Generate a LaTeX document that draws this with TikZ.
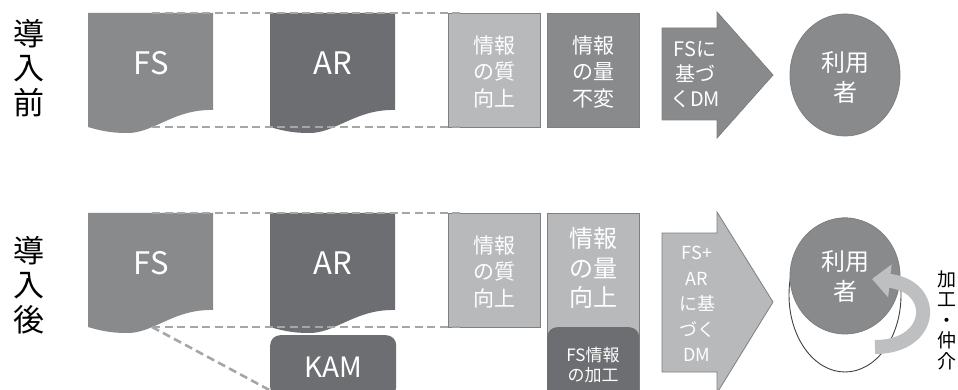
\documentclass[tikz,border=0pt]{standalone}
\usepackage{fontspec}
\setmainfont{Noto Sans CJK JP}
\usetikzlibrary{arrows.meta,shapes.geometric}
\definecolor{gmid}{HTML}{898A8C}
\definecolor{gdark}{HTML}{6D6E71}
\definecolor{glight}{HTML}{B8B9BB}
\definecolor{gdash}{HTML}{A5A6A8}
\definecolor{gedge}{HTML}{7E7F81}
\definecolor{garrow}{HTML}{BEBFC1}
\begin{document}
\begin{tikzpicture}[x=1pt,y=-1pt,
  lbl/.style={font=\fontsize{31}{34.5}\selectfont, text=black, inner sep=0, align=center},
  wt/.style={text=white, inner sep=0, align=center},
  dashln/.style={draw=gdash, line width=2.6, dash pattern=on 8 off 4.5},
  infobox/.style={draw=gedge, line width=1.2, minimum width=92, minimum height=114, anchor=north west, inner sep=0},
  docu/.pic={\fill[pic actions] (0,0) -- (125,0) -- (125,97) .. controls (85,96) and (65,121) .. (38,120) .. controls (22,120) and (10,117) .. (0,114) -- cycle;}
]
\useasboundingbox (0,0) rectangle (958,390);
\clip (0,0) rectangle (958,390);

% ---------- top row ----------
\node[lbl] (pre) at (29,68) {導\\入\\前};
\pic[fill=gmid] at (88,13) {docu};
\pic[fill=gdark] at (270,13) {docu};
\node[wt, font=\fontsize{31}{31}\selectfont] (fs1) at (151,63) {FS};
\node[wt, font=\fontsize{31}{31}\selectfont] (ar1) at (333,63) {AR};
\node[infobox, fill=glight] (q1) at (448,13) {};
\node[infobox, fill=gmid] (v1) at (547,13) {};
\node[wt, font=\fontsize{21}{26.5}\selectfont] (q1t) at (494,72) {情報\\の質\\向上};
\node[wt, font=\fontsize{21}{26.5}\selectfont] (v1t) at (593,72) {情報\\の量\\不変};
\coordinate (d1a) at (152,13); \coordinate (d1b) at (463,13);
\coordinate (d1c) at (152,127); \coordinate (d1d) at (463,127);
\draw[dashln] (d1a) -- (d1b);
\draw[dashln] (d1c) -- (d1d);
\filldraw[fill=gmid, draw=gedge, line width=0.8] (662,28) -- (717,28) -- (717,12) -- (773,75) -- (717,138) -- (717,120) -- (662,120) -- cycle;
\node[wt, font=\fontsize{20}{25}\selectfont] (dm1) at (695,75) {FSに\\基づ\\くDM};
\node[ellipse, fill=gmid, draw=gedge, line width=0.8, minimum width=110, minimum height=122, inner sep=0] (u1) at (845,75) {};
\node[wt, font=\fontsize{24}{30}\selectfont] (u1t) at (845,77) {利用\\者};

% ---------- bottom row ----------
\node[lbl] (post) at (29,285) {導\\入\\後};
\pic[fill=gmid] at (88,213) {docu};
\pic[fill=gdark] at (270,213) {docu};
\node[wt, font=\fontsize{31}{31}\selectfont] (fs2) at (151,263) {FS};
\node[wt, font=\fontsize{31}{31}\selectfont] (ar2) at (333,263) {AR};
\node[fill=gdark, rounded corners=10, minimum width=126, minimum height=62, anchor=north west, inner sep=0] (kam) at (270,335) {};
\node[wt, font=\fontsize{28}{28}\selectfont] (kamt) at (333,367) {KAM};
\node[infobox, fill=glight] (q2) at (448,213) {};
\node[infobox, fill=glight, minimum height=190] (v2) at (547,213) {};
\node[fill=gdark, rounded corners=10, minimum width=92, minimum height=75, anchor=north west, inner sep=0] (proc) at (547,327) {};
\node[wt, font=\fontsize{21}{26.5}\selectfont] (q2t) at (494,272) {情報\\の質\\向上};
\node[wt, font=\fontsize{24}{29.5}\selectfont] (v2t) at (593,268) {情報\\の量\\向上};
\node[wt, font=\fontsize{17}{20}\selectfont] (proct) at (593,365) {FS情報\\の加工};
\coordinate (d2a) at (152,213); \coordinate (d2b) at (463,213);
\coordinate (d2c) at (152,327); \coordinate (d2d) at (463,327);
\coordinate (d2e) at (275,393);
\draw[dashln] (d2a) -- (d2b);
\draw[dashln] (d2c) -- (d2d);
\draw[dashln] (d2c) -- (d2e);
\filldraw[fill=glight, draw=gedge, line width=0.8] (662,233) -- (717,233) -- (717,212) -- (773,302) -- (717,393) -- (717,372) -- (662,372) -- cycle;
\node[wt, font=\fontsize{18}{25.5}\selectfont] (dm2) at (697,304) {FS+\\AR\\に基\\づく\\DM};
\node[ellipse, fill=white, draw=black!75, line width=0.9, minimum width=112, minimum height=154, inner sep=0] (u2o) at (845,295) {};
\node[ellipse, fill=gmid, draw=gedge, line width=0.8, minimum width=110, minimum height=116, inner sep=0] (u2) at (845,276) {};
\node[wt, font=\fontsize{24}{30}\selectfont] (u2t) at (845,276) {利用\\者};
\coordinate (cs) at (875,347);
\coordinate (ce) at (872,279);
\draw[garrow, line width=14, -{Triangle[length=18, width=32]}] (cs) .. controls (935,347) and (938,286) .. (ce);
\node[inner sep=0, align=center, font=\fontsize{19}{20.5}\selectfont] (kk) at (947,320) {加\\工\\・\\仲\\介};
\end{tikzpicture}
\end{document}
